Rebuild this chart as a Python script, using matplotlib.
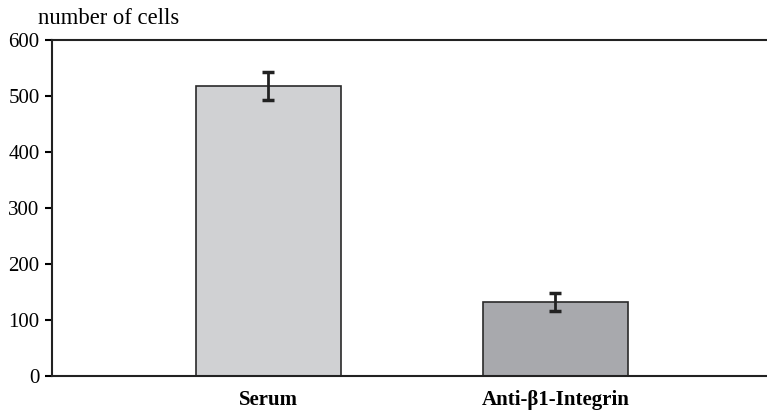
import numpy as np
import matplotlib.pyplot as plt

categories = ["Serum", "Anti-\u03b21-Integrin"]
values = [518, 132]
errors = [25, 16]
colors = ["#d0d1d3", "#a8a9ad"]

plt.rcParams['font.family'] = ['Liberation Serif', 'DejaVu Serif']

fig = plt.figure(figsize=(7.67, 4.11), dpi=100)
ax = fig.add_axes([52/767, 1 - 376/411, 715/767, 336/411])

x = np.arange(len(categories))
ax.bar(x, values, width=0.505, color=colors, edgecolor="#2a2a2a", linewidth=1.2, zorder=2)
ax.errorbar(x, values, yerr=errors, fmt="none", ecolor="#222222", elinewidth=2,
            capsize=4, capthick=2.5, zorder=3)

ax.set_xlim(-0.754, 1.737)
ax.set_ylim(0, 600)
ax.set_yticks(range(0, 601, 100))
ax.set_xticks(x)
ax.set_xticklabels(categories, fontweight="bold", fontsize=15)
ax.tick_params(axis="x", length=0, pad=10)
ax.tick_params(axis="y", direction="out", length=5, width=1.5, labelsize=15, pad=4)

ax.spines["right"].set_visible(False)
for s in ["left", "bottom", "top"]:
    ax.spines[s].set_linewidth(1.5)
    ax.spines[s].set_color("#222222")

fig.text(38/767, 1 - 18/411, "number of cells", fontsize=16.3, va="center", ha="left")

fig.savefig("out.png", dpi=100)
